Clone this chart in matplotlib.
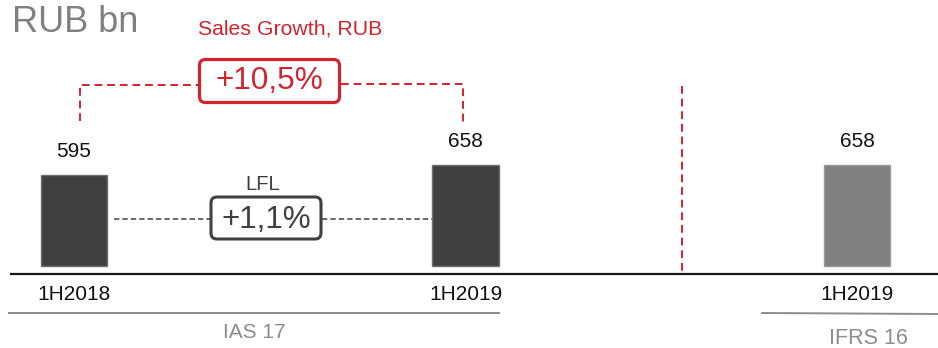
import matplotlib
matplotlib.use("Agg")
import matplotlib.pyplot as plt
from matplotlib.patches import FancyBboxPatch

plt.rcParams['font.family'] = ['Liberation Sans', 'DejaVu Sans']

# Sales, RUB bn
periods = ["1H2018", "1H2019", "1H2019"]
sales = [595, 658, 658]
bar_colors = ["#404040", "#404040", "#808080"]
edge_colors = ["#707070", "#707070", "#9a9a9a"]
standards = ["IAS 17", "IFRS 16"]
growth_label = "+10,5%"
lfl_label = "+1,1%"

W, H = 938, 348
fig = plt.figure(figsize=(W / 100, H / 100), dpi=100)

# Main data axes: bars placed at categorical positions 0, 1, 2
ax = fig.add_axes([0, 0, 1, 1])
step_px = 391.5
first_px = 74.0
px_per_unit = 0.1537
zero_px = 266.0
ax.set_xlim(-first_px / step_px, (W - first_px) / step_px)
ax.set_ylim(-(H - zero_px) / px_per_unit, zero_px / px_per_unit)
ax.axis("off")

xs = list(range(len(sales)))
ax.bar(xs, sales, width=0.17, color=bar_colors, edgecolor=edge_colors,
       linewidth=1.0, zorder=3)

for x, v in zip(xs, sales):
    ax.annotate(f"{v}", (x, v), xytext=(0, 23), textcoords="offset pixels",
                ha="center", va="center", fontsize=15, color="#111111")

xt = ax.get_xaxis_transform()
for x, lab in zip(xs, periods):
    ax.text(x, 1 - 294 / H, lab, transform=xt, ha="center", va="center",
            fontsize=15, color="#111111")

# Overlay in pixel units for titles, brackets and callout boxes
ov = fig.add_axes([0, 0, 1, 1], zorder=5)
ov.set_xlim(0, W)
ov.set_ylim(H, 0)
ov.axis("off")
ov.patch.set_visible(False)

red = "#d2232f"
dark = "#404040"
grey = "#8c8c8c"

ov.text(12, 23, "RUB bn", fontsize=26, color="#808080", ha="left", va="center")
ov.text(290, 29, "Sales Growth, RUB", fontsize=15.3, color=red,
        ha="center", va="center")

# baseline
ov.plot([10, W], [274, 274], color="#1a1a1a", lw=1.6, solid_capstyle="butt")

# separator between reporting standards
ov.plot([682, 682], [86, 275], color=red, lw=1.4, ls=(0, (4, 2.5)))

# sales growth bracket
ov.plot([80, 80, 198], [121, 85, 85], color=red, lw=1.4, ls=(0, (4, 2.5)))
ov.plot([341, 463, 463], [84, 84, 122], color=red, lw=1.4, ls=(0, (4, 2.5)))
ov.add_patch(FancyBboxPatch((199.5, 59.5), 140, 43,
                            boxstyle="round,pad=0,rounding_size=6",
                            fc="white", ec=red, lw=2.3, zorder=4))
ov.text(269, 81, growth_label, fontsize=22.7, color=red,
        ha="center", va="center", zorder=5)

# like-for-like callout
ov.plot([114, 210], [219, 219], color=dark, lw=1.1, ls=(0, (3.5, 2)))
ov.plot([322, 432], [219, 219], color=dark, lw=1.1, ls=(0, (3.5, 2)))
ov.add_patch(FancyBboxPatch((211, 197), 110, 42,
                            boxstyle="round,pad=0,rounding_size=6",
                            fc="white", ec=dark, lw=2.2, zorder=4))
ov.text(266, 220, lfl_label, fontsize=22.6, color=dark,
        ha="center", va="center", zorder=5)
ov.text(263, 184, "LFL", fontsize=14.6, color=dark, ha="center", va="center")

# accounting standard groupings
ov.plot([9, 499], [313, 313], color=grey, lw=1.4)
ov.text(254, 333, standards[0], fontsize=15, color=grey, ha="center", va="center")
ov.plot([762, W], [313, 314], color=grey, lw=1.4)
ov.text(868, 339, standards[1], fontsize=15.5, color=grey, ha="center", va="center")

fig.savefig("out.png", dpi=100)
